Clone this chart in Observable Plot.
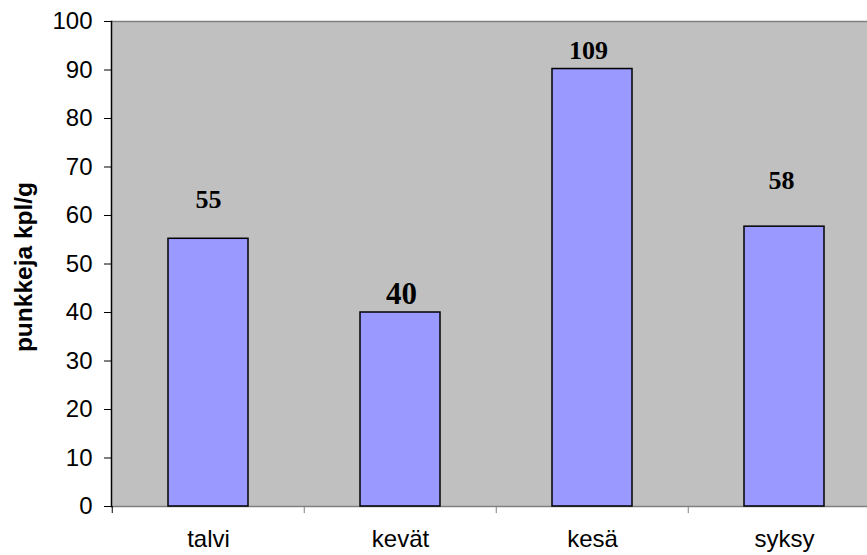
<!DOCTYPE html>
<html>
<head>
<meta charset="utf-8">
<script src="https://cdn.jsdelivr.net/npm/d3@7"></script>
<script src="https://cdn.jsdelivr.net/npm/@observablehq/plot@0.6"></script>
<style>
  html, body { margin: 0; padding: 0; background: #fff; overflow: hidden; }
</style>
</head>
<body>
<div id="chart"></div>
<script>
// --- data ---
const seasons = ["talvi", "kevät", "kesä", "syksy"];
const values = [55.2, 40.0, 90.2, 57.7];
const valueLabels = ["55", "40", "109", "58"];
const yTicks = [0, 10, 20, 30, 40, 50, 60, 70, 80, 90, 100];
const yTitle = "punkkeja kpl/g";

const rows = seasons.map((s, i) => ({season: s, value: values[i], label: valueLabels[i]}));

// --- label styling (placement above each bar, in px) ---
const labelStyle = [
  {dy: -39, dx: 0, size: 26},
  {dy: -18, dx: 1, size: 31},
  {dy: -18, dx: -4, size: 26},
  {dy: -46, dx: -3, size: 26}
];

const W = 867, H = 555;
const mL = 111, mT = 21, mB = 49;
const step = 192.5;
const bandFrac = 80 / step;
const pIn = 1 - bandFrac;

const labelMarks = rows.map((r, i) => Plot.text([r], {
  x: "season", y: "value", text: "label",
  dy: labelStyle[i].dy, dx: labelStyle[i].dx,
  fontSize: labelStyle[i].size,
  fontWeight: "bold",
  fontFamily: "'Liberation Serif', 'Times New Roman', serif",
  fill: "black",
  lineAnchor: "middle"
}));

const chart = Plot.plot({
  width: W,
  height: H,
  marginLeft: mL,
  marginTop: mT,
  marginBottom: mB,
  marginRight: 0,
  style: {background: "white", fontFamily: "'Liberation Sans', Arial, sans-serif", color: "black"},
  x: {domain: seasons, range: [mL, mL + 4 * step], paddingInner: pIn, paddingOuter: pIn / 2, axis: null},
  y: {domain: [0, 100], axis: null},
  marks: [
    Plot.frame({fill: "#c0c0c0", stroke: null}),
    Plot.frame({anchor: "top", stroke: "#808080", strokeWidth: 1.5}),
    Plot.frame({anchor: "bottom", stroke: "#808080", strokeWidth: 1.5}),
    Plot.barY(rows, {x: "season", y: "value", fill: "#9999ff", stroke: "black", strokeWidth: 1.5}),
    // category boundary ticks below the axis
    Plot.ruleX(seasons, {
      x: d => d, dx: -step / 2, y1: 0, y2: -1.45,
      stroke: (d, i) => i === 0 ? "black" : "#808080", strokeWidth: 1
    }),
    Plot.frame({anchor: "left", stroke: "black", strokeWidth: 1.5}),
    Plot.axisY({
      ticks: yTicks, tickSize: 7, tickPadding: 12, fontSize: 24,
      label: null, stroke: "black", fill: "black"
    }),
    Plot.axisX({
      tickSize: 0, tickPadding: 23, fontSize: 24, label: null, fill: "black"
    }),
    Plot.text([yTitle], {
      frameAnchor: "left", text: d => d, rotate: -90, dx: -87, dy: 3,
      fontSize: 24.5, fontWeight: "bold", textAnchor: "middle", lineAnchor: "middle", fill: "black"
    }),
    ...labelMarks
  ]
});

document.getElementById("chart").appendChild(chart);
</script>
</body>
</html>
